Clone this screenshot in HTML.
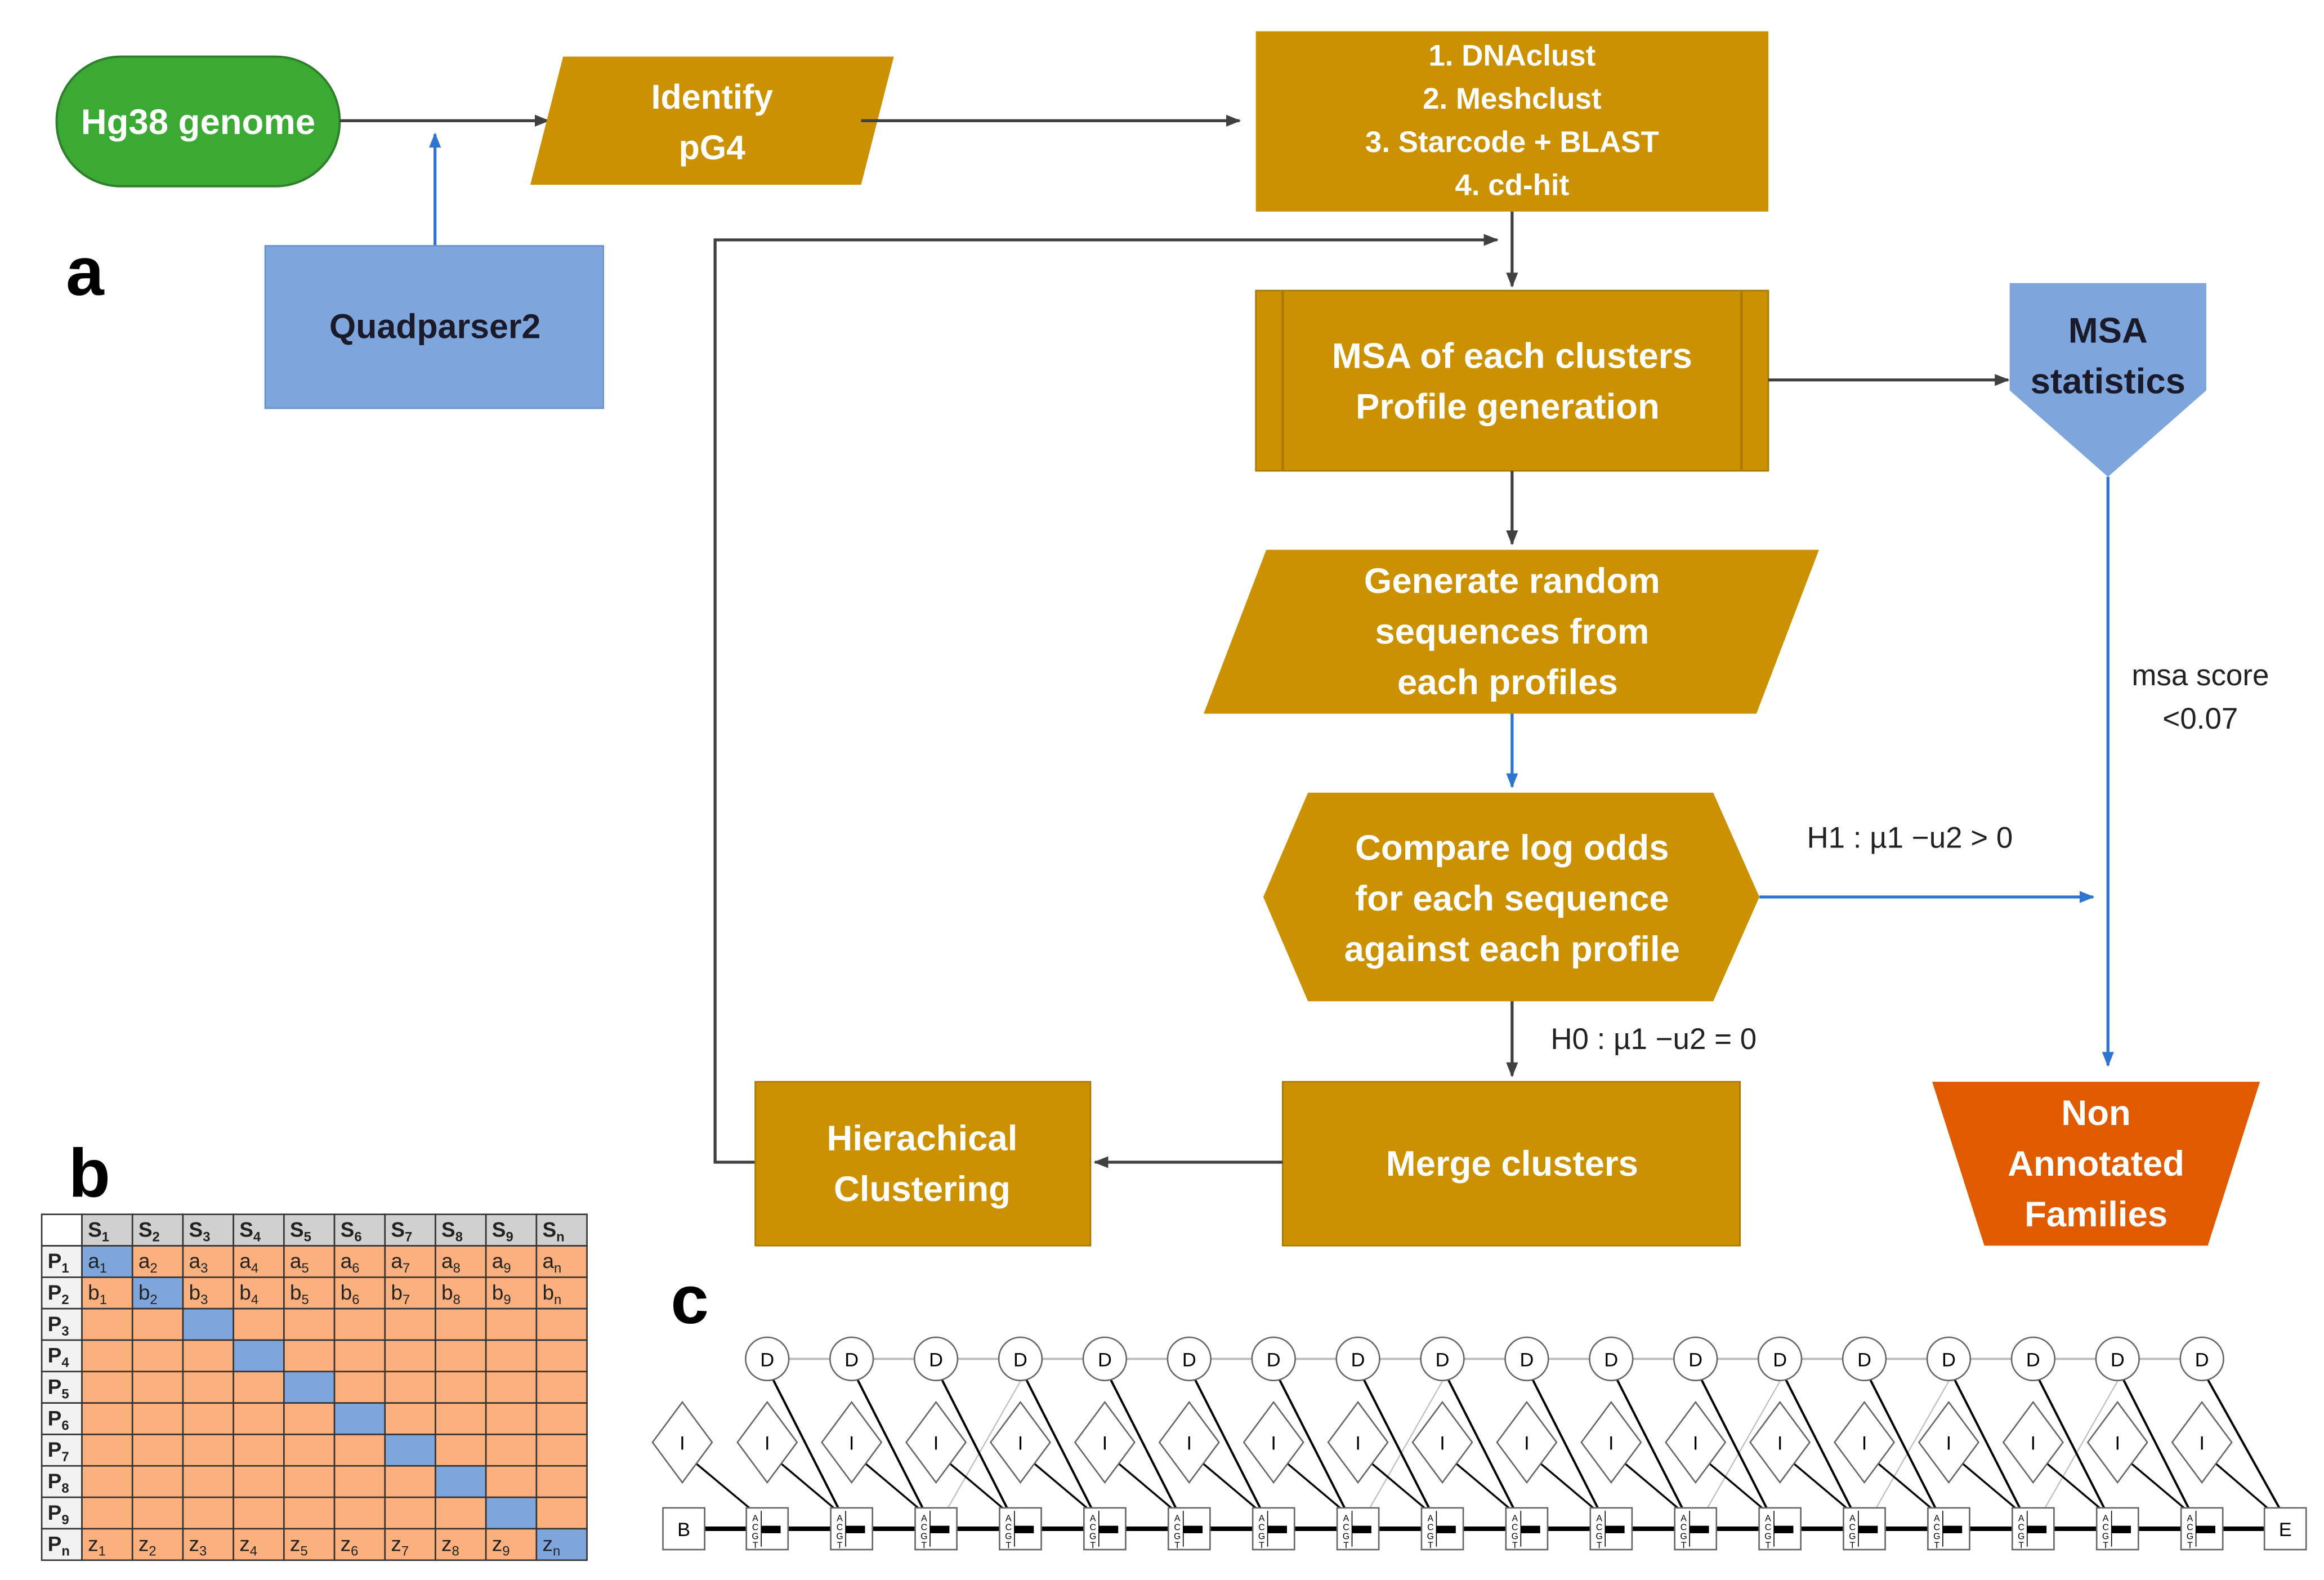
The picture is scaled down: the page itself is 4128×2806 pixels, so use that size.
<!DOCTYPE html>
<html><head><meta charset="utf-8"><style>
html,body{margin:0;padding:0;background:#fff;}
svg{display:block;}
text{font-family:"Liberation Sans",sans-serif;}
</style></head><body>
<svg id="s" width="4128" height="2806" viewBox="0 0 1560 1060.4" preserveAspectRatio="none" xmlns="http://www.w3.org/2000/svg">
<defs>
<marker id="ag" markerWidth="10" markerHeight="10" refX="9" refY="5" orient="auto" markerUnits="userSpaceOnUse"><path d="M0,1 L10,5 L0,9 z" fill="#404040"/></marker>
<marker id="ab" markerWidth="10" markerHeight="10" refX="9" refY="5" orient="auto" markerUnits="userSpaceOnUse"><path d="M0,1 L10,5 L0,9 z" fill="#2f74d0"/></marker>
</defs>
<g font-weight="bold" text-anchor="middle">
<!-- Hg38 -->
<rect x="38" y="38" width="190" height="87" rx="43" fill="#3aaa35" stroke="#2f7f2a" stroke-width="1.5"/>
<text x="133" y="90" fill="#fff" font-size="24">Hg38 genome</text>
<line x1="228" y1="81" x2="368" y2="81" stroke="#404040" stroke-width="2" marker-end="url(#ag)"/>
<line x1="292" y1="165" x2="292" y2="90" stroke="#2f74d0" stroke-width="2" marker-end="url(#ab)"/>
<rect x="178" y="165" width="227" height="109" fill="#7ea6dc" stroke="#6a92c8"/>
<text x="292" y="227" fill="#1a1a2a" font-size="23">Quadparser2</text>
<text x="57" y="198" fill="#000" font-size="46" text-anchor="middle">a</text>
<text x="60" y="803" fill="#000" font-size="46">b</text>
<text x="463" y="888" fill="#000" font-size="46">c</text>
<!-- Identify -->
<polygon points="378,38 600,38 578,124 356,124" fill="#cc9100"/>
<text x="478" y="73" fill="#fff" font-size="23">Identify</text>
<text x="478" y="107" fill="#fff" font-size="23">pG4</text>
<line x1="578" y1="81" x2="832" y2="81" stroke="#404040" stroke-width="2" marker-end="url(#ag)"/>
<rect x="843" y="21" width="344" height="121" fill="#cc9100"/>
<g fill="#fff" font-size="20"><text x="1015" y="44">1. DNAclust</text><text x="1015" y="73">2. Meshclust</text><text x="1015" y="102">3. Starcode + BLAST</text><text x="1015" y="131">4. cd-hit</text></g>
<line x1="1015" y1="142" x2="1015" y2="192" stroke="#404040" stroke-width="2" marker-end="url(#ag)"/>
<polyline points="507,780 480,780 480,161 1005,161" fill="none" stroke="#404040" stroke-width="2" marker-end="url(#ag)"/>
<!-- MSA -->
<rect x="843" y="195" width="344" height="121" fill="#cc9100" stroke="#a87700"/>
<line x1="861" y1="195" x2="861" y2="316" stroke="#a87700" stroke-width="1.5"/>
<line x1="1169" y1="195" x2="1169" y2="316" stroke="#a87700" stroke-width="1.5"/>
<text x="1015" y="247" fill="#fff" font-size="24">MSA of each clusters</text>
<text x="1012" y="281" fill="#fff" font-size="24">Profile generation</text>
<line x1="1187" y1="255" x2="1348" y2="255" stroke="#404040" stroke-width="2" marker-end="url(#ag)"/>
<polygon points="1349,190 1481,190 1481,262 1415,320 1349,262" fill="#7ea6dc"/>
<text x="1415" y="230" fill="#1a1a2a" font-size="24">MSA</text>
<text x="1415" y="264" fill="#1a1a2a" font-size="24">statistics</text>
<line x1="1415" y1="320" x2="1415" y2="715" stroke="#2f74d0" stroke-width="2" marker-end="url(#ab)"/>
<text x="1477" y="460" fill="#222" font-size="20" font-weight="normal">msa score</text>
<text x="1477" y="489" fill="#222" font-size="20" font-weight="normal">&lt;0.07</text>
<line x1="1015" y1="316" x2="1015" y2="365" stroke="#404040" stroke-width="2" marker-end="url(#ag)"/>
<polygon points="850,369 1221,369 1179,479 808,479" fill="#cc9100"/>
<g fill="#fff" font-size="24"><text x="1015" y="398">Generate random</text><text x="1015" y="432">sequences from</text><text x="1012" y="466">each profiles</text></g>
<line x1="1015" y1="479" x2="1015" y2="528" stroke="#2f74d0" stroke-width="2" marker-end="url(#ab)"/>
<polygon points="878,532 1150,532 1181,602 1150,672 878,672 848,602" fill="#cc9100"/>
<g fill="#fff" font-size="24"><text x="1015" y="577">Compare log odds</text><text x="1015" y="611">for each sequence</text><text x="1015" y="645">against each profile</text></g>
<line x1="1181" y1="602" x2="1405" y2="602" stroke="#2f74d0" stroke-width="2" marker-end="url(#ab)"/>
<text x="1282" y="569" fill="#222" font-size="20" font-weight="normal">H1 : µ1 −u2 &gt; 0</text>
<line x1="1015" y1="672" x2="1015" y2="722" stroke="#404040" stroke-width="2" marker-end="url(#ag)"/>
<text x="1110" y="704" fill="#222" font-size="20" font-weight="normal">H0 : µ1 −u2 = 0</text>
<rect x="861" y="726" width="307" height="110" fill="#cc9100" stroke="#a87700"/>
<text x="1015" y="789" fill="#fff" font-size="24">Merge clusters</text>
<line x1="861" y1="780" x2="735" y2="780" stroke="#404040" stroke-width="2" marker-end="url(#ag)"/>
<rect x="507" y="726" width="225" height="110" fill="#cc9100" stroke="#a87700"/>
<text x="619" y="772" fill="#fff" font-size="24">Hierachical</text>
<text x="619" y="806" fill="#fff" font-size="24">Clustering</text>
<polygon points="1297,726 1517,726 1482,836 1332,836" fill="#e05a00"/>
<g fill="#fff" font-size="24"><text x="1407" y="755">Non</text><text x="1407" y="789">Annotated</text><text x="1407" y="823">Families</text></g>
</g>
<g id="tbl"></g>
<g id="hmm"></g>
</svg>
<script>
var NS="http://www.w3.org/2000/svg";
function el(p,t,a,txt){var e=document.createElementNS(NS,t);for(var k in a)e.setAttribute(k,a[k]);if(txt!==undefined)e.textContent=txt;p.appendChild(e);return e;}
// table
var T=document.getElementById("tbl");
var x0=28,y0=815,cw0=27,cw=33.9,rh=21.1;
var rows=["1","2","3","4","5","6","7","8","9","n"];
for(var r=0;r<11;r++){for(var c=0;c<11;c++){
 var x=c==0?x0:x0+cw0+(c-1)*cw, w=c==0?cw0:cw, y=y0+r*rh;
 var f;
 if(r==0)f=c==0?"#fff":"#d0d0d0";else if(c==0)f="#f2f2f2";else f=(c==r)?"#7ea6dc":"#fbb07e";
 el(T,"rect",{x:x,y:y,width:w,height:rh,fill:f,stroke:"#333","stroke-width":1});
 var t=null;
 if(r==0&&c>0)t=["S",rows[c-1],true];
 else if(c==0&&r>0)t=["P",rows[r-1],true];
 else if(r==1)t=["a",rows[c-1],false];else if(r==2)t=["b",rows[c-1],false];else if(r==10)t=["z",rows[c-1],false];
 if(t){var tx=el(T,"text",{x:x+4,y:y+15,"font-size":14,"font-weight":t[2]?"bold":"normal",fill:"#222"});
  el(tx,"tspan",{},t[0]);el(tx,"tspan",{"font-size":9,dy:3},t[1]);}
}}
// hmm
var H=document.getElementById("hmm");
var N=18,xs=[];for(var i=0;i<N;i++)xs.push(515+i*56.65);
var yD=912,yI=968,yM=1026;
el(H,"line",{x1:xs[0],y1:yD,x2:xs[N-1],y2:yD,stroke:"#bbb","stroke-width":1.5});
el(H,"line",{x1:473,y1:yM,x2:1520,y2:yM,stroke:"#000","stroke-width":3});
// faint lines
[3,8,12,14,16].forEach(function(k){el(H,"line",{x1:xs[k-1]+8,y1:yM-14,x2:xs[k],y2:yD+15,stroke:"#bbb","stroke-width":0.8});});
var Ix=[458].concat(xs);
for(var i=0;i<=N;i++){var tx=(i<N)?xs[i]-12:1522;
 el(H,"line",{x1:Ix[i]+9,y1:yI+14,x2:tx,y2:yM-14,stroke:"#000","stroke-width":1.3});}
for(var i=0;i<N;i++){var tx=(i<N-1)?xs[i+1]-9:1530;
 el(H,"line",{x1:xs[i]+4,y1:yD+14,x2:tx,y2:yM-14,stroke:"#000","stroke-width":1.5});}
for(var i=0;i<N;i++){el(H,"circle",{cx:xs[i],cy:yD,r:14.5,fill:"#fff",stroke:"#666","stroke-width":1});
 el(H,"text",{x:xs[i],y:yD+5,"font-size":13,"text-anchor":"middle",fill:"#000"},"D");}
for(var i=0;i<=N;i++){var cx=Ix[i];
 el(H,"polygon",{points:(cx-20)+","+yI+" "+cx+","+(yI-27)+" "+(cx+20)+","+yI+" "+cx+","+(yI+27),fill:"#fff",stroke:"#666","stroke-width":1});
 el(H,"text",{x:cx,y:yI+5,"font-size":13,"text-anchor":"middle",fill:"#000"},"I");}
el(H,"rect",{x:445,y:yM-14,width:28,height:28,fill:"#fff",stroke:"#666"});
el(H,"text",{x:459,y:yM+5,"font-size":13,"text-anchor":"middle"},"B");
el(H,"rect",{x:1520,y:yM-14,width:28,height:28,fill:"#fff",stroke:"#666"});
el(H,"text",{x:1534,y:yM+5,"font-size":13,"text-anchor":"middle"},"E");
for(var i=0;i<N;i++){var bx=xs[i]-14;
 el(H,"rect",{x:bx,y:yM-14,width:28,height:28,fill:"#fff",stroke:"#666"});
 el(H,"text",{x:bx+6,y:yM-5,"font-size":6,"text-anchor":"middle"},"A");
 el(H,"text",{x:bx+6,y:yM+1,"font-size":6,"text-anchor":"middle"},"C");
 el(H,"text",{x:bx+6,y:yM+7,"font-size":6,"text-anchor":"middle"},"G");
 el(H,"text",{x:bx+6,y:yM+13,"font-size":6,"text-anchor":"middle"},"T");
 el(H,"line",{x1:bx+10,y1:yM-12,x2:bx+10,y2:yM+12,stroke:"#000","stroke-width":0.6});
 el(H,"rect",{x:bx+10,y:yM-2,width:13,height:5,fill:"#000"});}
</script>
</body></html>
